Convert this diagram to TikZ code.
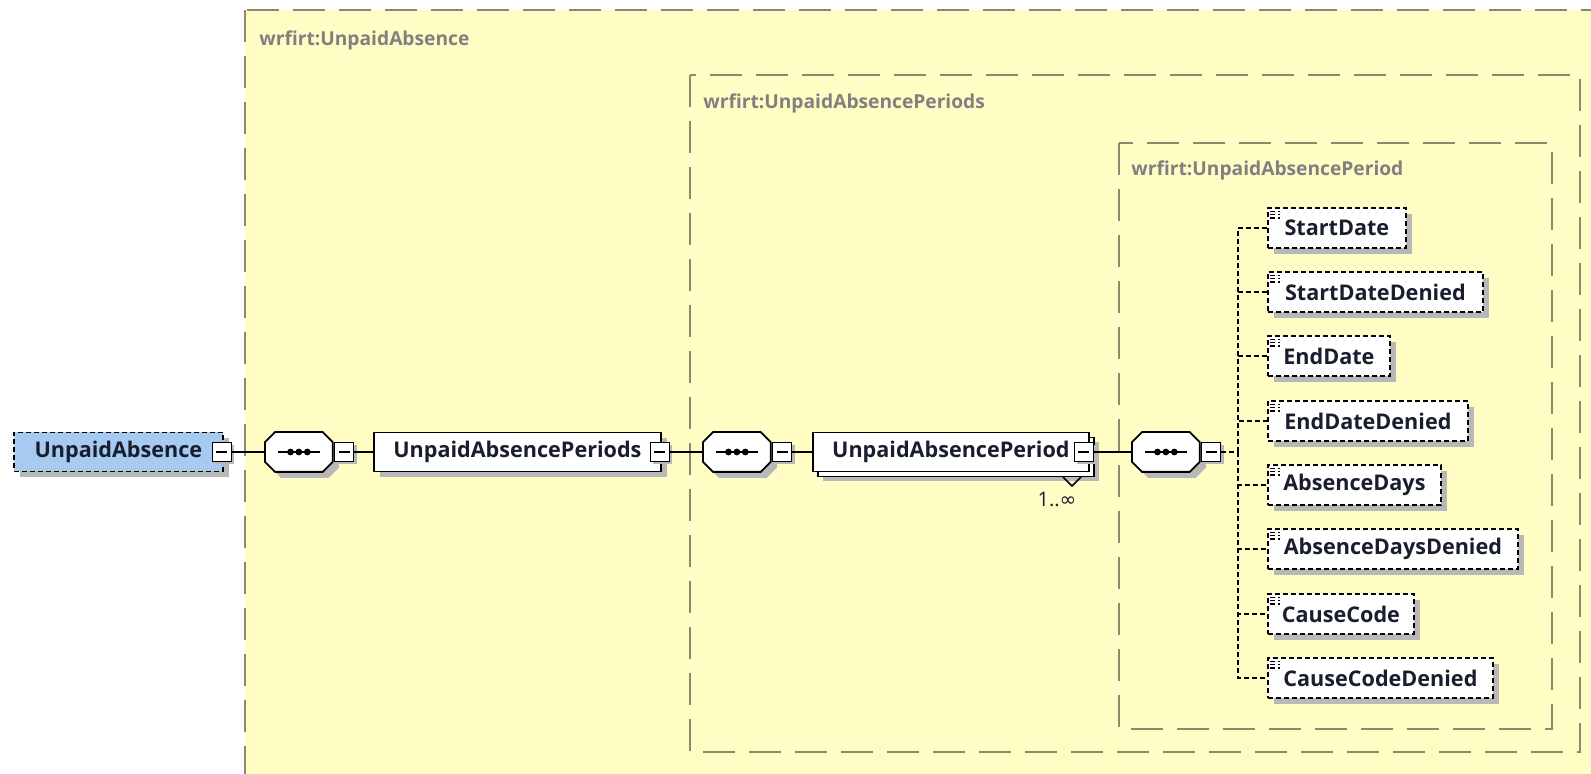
\documentclass[tikz,border=0pt]{standalone}
\usepackage{fontspec}
\setmainfont{Open Sans}
\newfontfamily\symfont{DejaVu Sans}
\usepackage{tikz}
\usetikzlibrary{shadows, positioning}

\definecolor{xsdyellow}{RGB}{255,253,196}
\definecolor{xsdframe}{RGB}{140,138,110}
\definecolor{xsdlabel}{RGB}{128,128,128}
\definecolor{xsdblue}{RGB}{166,202,240}
\definecolor{xsdtext}{RGB}{24,30,46}
\definecolor{xsdshadow}{RGB}{184,184,184}

\newcommand\xsdfont{\fontsize{10.8}{12}\selectfont\bfseries}

% Sequenz-Symbol (Achteck mit Punkten) um einen benannten Knoten
\newcommand\drawseq[1]{%
    \draw[line width=0.9pt, fill=white, shade]
        ([xshift=5pt]#1.north west) -- ([xshift=-5pt]#1.north east)
        -- ([yshift=-5pt]#1.north east) -- ([yshift=5pt]#1.south east)
        -- ([xshift=-5pt]#1.south east) -- ([xshift=5pt]#1.south west)
        -- ([yshift=5pt]#1.south west) -- ([yshift=-5pt]#1.north west) -- cycle;
    \draw[line width=0.7pt] ([xshift=-10.5pt]#1.center) -- ([xshift=10.5pt]#1.center);
    \foreach \d in {-4.2,0,4.2}
        \fill ([xshift=\d pt]#1.center) circle (1.7pt);
}

\tikzset{
    box/.style={draw=xsdframe, line width=0.9pt, dash pattern=on 16pt off 7pt},
    boxlabel/.style={anchor=west, inner sep=0pt, text=xsdlabel, font=\fontsize{9.6}{12}\selectfont\bfseries},
    shade/.style={drop shadow={shadow xshift=3pt, shadow yshift=-3pt, fill=xsdshadow, opacity=1}},
    elem/.style={draw=black, line width=0.9pt, fill=white, anchor=west, minimum height=19.5pt,
        inner sep=0pt, text=xsdtext, font=\xsdfont, shade},
    rootelem/.style={elem, fill=xsdblue, dash pattern=on 2.5pt off 1.5pt},
    stacked/.style={draw=black, line width=0.9pt, fill=white, anchor=west, minimum height=19.5pt,
        inner sep=0pt, text=xsdtext, font=\xsdfont,
        drop shadow={shadow xshift=5pt, shadow yshift=-5pt, fill=xsdshadow, opacity=1},
        copy shadow={shadow xshift=2.5pt, shadow yshift=-2.5pt, line width=0.9pt}},
    attr/.style={draw=black, line width=0.9pt, fill=white, anchor=west, minimum height=20pt,
        inner sep=0pt, text=xsdtext, font=\xsdfont, dash pattern=on 2.5pt off 1.5pt, shade,
        path picture={
            \foreach \k in {1.8,3.4,5}
                \draw[line width=0.7pt] ([xshift=1pt, yshift=-\k pt]path picture bounding box.north west)
                    -- ++(5pt,0);
        }},
    seq/.style={rectangle, anchor=west, minimum width=33.5pt, minimum height=19.5pt, inner sep=0pt},
    mbox/.style={draw=black, line width=0.8pt, fill=white, minimum size=9.5pt, inner sep=0pt,
        drop shadow={shadow xshift=1.5pt, shadow yshift=-1.5pt, fill=xsdshadow, opacity=1},
        path picture={
            \draw[line width=0.6pt] ([xshift=2pt]path picture bounding box.west)
                -- ([xshift=-2pt]path picture bounding box.east);
        }},
    link/.style={draw=black, line width=0.9pt},
    dlink/.style={draw=black, line width=0.9pt, dash pattern=on 2.5pt off 1.5pt},
    card/.style={inner sep=0pt, text=xsdtext, font=\fontsize{10}{12}\selectfont}
}

\begin{document}
\begin{tikzpicture}[x=0.5pt, y=-0.5pt]
    \useasboundingbox (0,0) rectangle (1591,774);
    \clip (0,0) rectangle (1591,774);

    % Rahmen der Typen
    \draw[box, fill=xsdyellow] (245,10) rectangle (1650,830);
    \draw[box] (690,75) rectangle (1580,752);
    \draw[box] (1119,143) rectangle (1552,729);
    \node[boxlabel] (lblabs) at (259,40) {wrfirt:UnpaidAbsence};
    \node[boxlabel] (lblperiods) at (703,103) {wrfirt:UnpaidAbsencePeriods};
    \node[boxlabel] (lblperiod) at (1131,170) {wrfirt:UnpaidAbsencePeriod};

    % Elemente
    \node[rootelem, minimum width=104.5pt] (abs) at (13,452) {UnpaidAbsence};
    \node[mbox] (absm) at ([xshift=-1pt]abs.east) {};
    \node[seq] (seqa) at (265,452) {};
    \drawseq{seqa}
    \node[mbox, anchor=west] (seqam) at ([xshift=0.5pt]seqa.east) {};
    \node[elem, minimum width=143.5pt] (periods) at (373,452) {UnpaidAbsencePeriods};
    \node[mbox] (periodsm) at ([xshift=-1pt]periods.east) {};
    \node[seq] (seqb) at (703,452) {};
    \drawseq{seqb}
    \node[mbox, anchor=west] (seqbm) at ([xshift=0.5pt]seqb.east) {};
    \node[stacked, minimum width=138pt] (period) at (812,452) {UnpaidAbsencePeriod};
    \node[mbox] (periodm) at ([xshift=-3pt]period.east) {};
    \node[card] (periodcard) at (1057,500) {1..{\symfont ∞}};
    \draw[line width=0.8pt] (1063,477) -- (1072,486) -- (1081,477);
    \node[seq] (seqc) at (1132,452) {};
    \drawseq{seqc}
    \node[mbox, anchor=west] (seqcm) at ([xshift=0.5pt]seqc.east) {};
    \coordinate (fork) at (1238,452);

    % Kindelemente
    \node[attr, minimum width=69pt] (start) at (1267,228) {StartDate};
    \node[attr, minimum width=107.5pt] (startden) at (1267,292) {StartDateDenied};
    \node[attr, minimum width=61pt] (end) at (1267,356) {EndDate};
    \node[attr, minimum width=100pt] (endden) at (1267,421) {EndDateDenied};
    \node[attr, minimum width=86.5pt] (days) at (1267,485) {AbsenceDays};
    \node[attr, minimum width=125pt] (daysden) at (1267,549) {AbsenceDaysDenied};
    \node[attr, minimum width=73pt] (cause) at (1267,614) {CauseCode};
    \node[attr, minimum width=112.5pt] (causeden) at (1267,678) {CauseCodeDenied};

    % Verbindungen
    \draw[link] (absm) -- (seqa);
    \draw[link] (seqam) -- (periods);
    \draw[link] (periodsm) -- (seqb);
    \draw[link] (seqbm) -- (period);
    \draw[link] (periodm) -- (seqc);
    \draw[dlink] (seqcm) -- (fork);
    \draw[dlink] (fork) |- (start);
    \draw[dlink] (fork) |- (startden);
    \draw[dlink] (fork) |- (end);
    \draw[dlink] (fork) |- (endden);
    \draw[dlink] (fork) |- (days);
    \draw[dlink] (fork) |- (daysden);
    \draw[dlink] (fork) |- (cause);
    \draw[dlink] (fork) |- (causeden);
\end{tikzpicture}
\end{document}
